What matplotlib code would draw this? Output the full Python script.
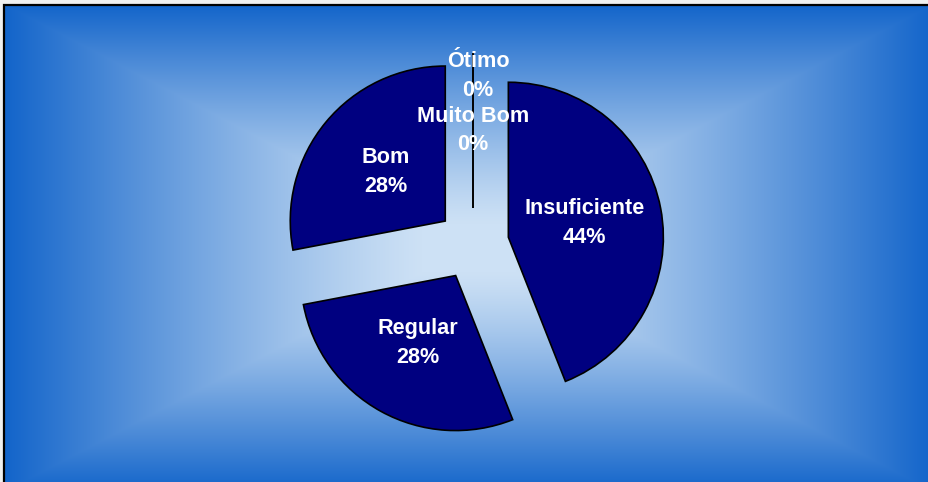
import numpy as np
import matplotlib
matplotlib.use("Agg")
import matplotlib.pyplot as plt

categories = ["Insuficiente", "Regular", "Bom", "Muito Bom", "Ótimo"]
values = [44, 28, 28, 0, 0]

W, H = 929, 482

fig = plt.figure(figsize=(W / 100, H / 100), dpi=100)
fig.patch.set_facecolor("#f0f0f0")

# rectangular "from centre" gradient, drawn pixel for pixel (row 0 = top)
left, top = 4, 4
cx, cy = 469, 248
px, py = np.meshgrid(np.arange(W) + 0.5, np.arange(H) + 0.5)
t = np.maximum(np.abs(px - cx) / (cx - left), np.abs(py - cy) / (cy - top))
t = np.clip((t - 0.1) / 0.9, 0, 1) ** 1.2
c_in = np.array([205, 225, 245]) / 255
c_out = np.array([18, 100, 202]) / 255
img = c_in[None, None, :] * (1 - t[..., None]) + c_out[None, None, :] * t[..., None]
outside = (px < left) | (py < top)
img[outside] = 240 / 255
fig.figimage(img, xo=0, yo=0, origin="upper", zorder=-1)

ax = fig.add_axes([0, 0, 1, 1], zorder=1)
ax.patch.set_visible(False)
# only left and top border are visible in the crop
ax.plot([left + 0.5, left + 0.5, W + 20], [-20, H - top - 0.5, H - top - 0.5],
        color="black", linewidth=1.6, solid_joinstyle="miter", zorder=1)

labels = [f"{c}\n{v}%" for c, v in zip(categories, values)]
wedges, texts = ax.pie(values, labels=labels, startangle=90, counterclock=False,
                       explode=[36] * len(values), radius=155, center=(473, 238),
                       colors=["#000080"] * len(values), labeldistance=0.5,
                       wedgeprops=dict(edgecolor="black", linewidth=1.2))
for w in wedges:
    w.set_zorder(2)
for tx in texts:
    tx.set_ha("center")
    tx.set_va("center")
    tx.set_color("white")
    tx.set_fontweight("bold")
    tx.set_fontsize(15.6)
    tx.set_family("Liberation Sans")
    tx.set_linespacing(1.5)
    tx.set_zorder(3)
# Ótimo label pushed up to avoid overlapping Muito Bom
ox, oy = texts[-1].get_position()
texts[-1].set_position((ox + 5, oy + 55))

ax.set_aspect("equal")
ax.set_xlim(0, W)
ax.set_ylim(0, H)
ax.axis("off")

fig.savefig("out.png", dpi=100)
